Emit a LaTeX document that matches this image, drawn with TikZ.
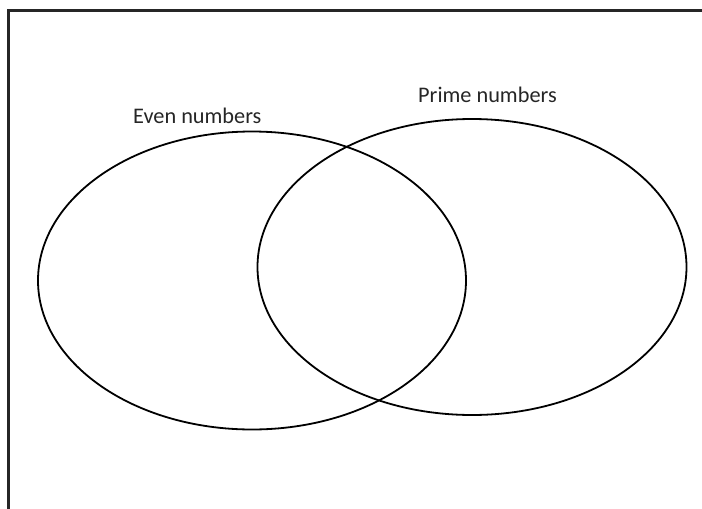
\documentclass[tikz,border=0pt]{standalone}
\usepackage{fontspec}
\setmainfont{Carlito}
\usetikzlibrary{shapes.geometric}
\begin{document}
\begin{tikzpicture}[x=1pt,y=-1pt,
  setline/.style={line width=1.8pt, black},
  framestyle/.style={line width=2.4pt, black!85},
  lbl/.style={font=\fontsize{22.3}{26}\selectfont, anchor=base west, inner sep=0pt, text=black!85}]
\useasboundingbox (0,0) rectangle (702,509);
\coordinate (fb) at (8.5,509);
\coordinate (fc) at (8.5,10.5);
\coordinate (fr) at (702,10.5);
\draw[framestyle] (fb) -- (fc) -- (fr);
\node[setline, draw, ellipse, minimum width=428pt, minimum height=298pt, inner sep=0pt] (even) at (252,280.5) {};
\node[setline, draw, ellipse, minimum width=429pt, minimum height=296pt, inner sep=0pt] (prime) at (472,267) {};
\node[lbl] (evenlbl) at (133,123) {Even numbers};
\node[lbl] (primelbl) at (418,102) {Prime numbers};
\end{tikzpicture}
\end{document}
